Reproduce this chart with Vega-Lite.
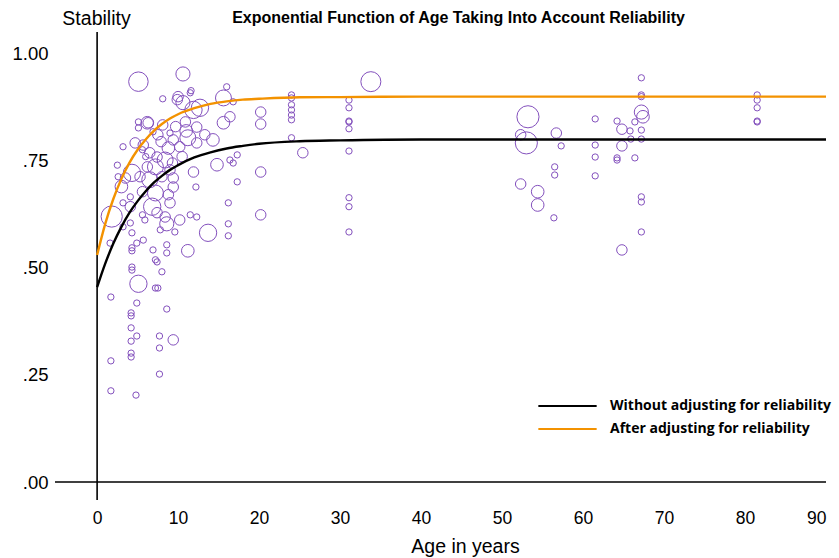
{
  "$schema": "https://vega.github.io/schema/vega-lite/v6.json",
  "width": 771,
  "height": 468,
  "autosize": {"type": "none"},
  "padding": {"left": 55, "top": 32, "right": 13, "bottom": 58},
  "background": "white",
  "config": {"view": {"stroke": null}, "font": "Liberation Sans"},
  "title": {"text": "Exponential Function of Age Taking Into Account Reliability", "font": "Liberation Sans", "fontSize": 16, "fontWeight": "bold", "anchor": "middle", "dx": 18, "dy": 26, "offset": 8, "color": "#000"},
  "datasets": {
    "points": [
      {"age":53.2,"stability":0.853,"n":490},{"age":52.3,"stability":0.811,"n":110},{"age":53.0,"stability":0.792,"n":490},{"age":56.7,"stability":0.815,"n":110},{"age":57.3,"stability":0.785,"n":40},{"age":56.5,"stability":0.736,"n":40},{"age":56.5,"stability":0.717,"n":40},{"age":56.4,"stability":0.617,"n":40},{"age":52.3,"stability":0.696,"n":110},{"age":54.4,"stability":0.678,"n":160},{"age":54.4,"stability":0.647,"n":160},
      {"age":61.5,"stability":0.848,"n":40},{"age":61.5,"stability":0.787,"n":40},{"age":61.5,"stability":0.759,"n":40},{"age":61.5,"stability":0.715,"n":40},{"age":64.2,"stability":0.843,"n":40},{"age":64.8,"stability":0.824,"n":110},{"age":64.8,"stability":0.785,"n":110},{"age":64.2,"stability":0.757,"n":40},{"age":64.2,"stability":0.752,"n":40},{"age":64.8,"stability":0.542,"n":110},{"age":65.8,"stability":0.820,"n":40},{"age":65.9,"stability":0.801,"n":40},{"age":66.4,"stability":0.841,"n":40},{"age":66.4,"stability":0.757,"n":40},
      {"age":67.2,"stability":0.944,"n":40},{"age":67.2,"stability":0.904,"n":40},{"age":67.2,"stability":0.900,"n":40},{"age":67.2,"stability":0.864,"n":200},{"age":67.4,"stability":0.853,"n":160},{"age":67.2,"stability":0.822,"n":40},{"age":67.2,"stability":0.801,"n":40},{"age":67.2,"stability":0.666,"n":40},{"age":67.2,"stability":0.654,"n":40},{"age":67.2,"stability":0.584,"n":40},
      {"age":81.5,"stability":0.904,"n":40},{"age":81.5,"stability":0.892,"n":40},{"age":81.5,"stability":0.874,"n":40},{"age":81.5,"stability":0.843,"n":40},{"age":81.5,"stability":0.841,"n":40},
      {"age":24.0,"stability":0.904,"n":40},{"age":24.0,"stability":0.897,"n":40},{"age":24.0,"stability":0.881,"n":40},{"age":24.0,"stability":0.869,"n":40},{"age":24.0,"stability":0.857,"n":40},{"age":24.0,"stability":0.846,"n":40},{"age":24.0,"stability":0.804,"n":40},{"age":25.4,"stability":0.769,"n":110},
      {"age":31.1,"stability":0.892,"n":40},{"age":31.1,"stability":0.874,"n":40},{"age":31.1,"stability":0.843,"n":40},{"age":31.1,"stability":0.841,"n":40},{"age":31.1,"stability":0.825,"n":40},{"age":31.1,"stability":0.773,"n":40},{"age":31.1,"stability":0.664,"n":40},{"age":31.1,"stability":0.643,"n":40},{"age":31.1,"stability":0.584,"n":40},{"age":33.8,"stability":0.935,"n":400},
      {"age":10.6,"stability":0.953,"n":200},{"age":5.1,"stability":0.935,"n":380},{"age":8.1,"stability":0.895,"n":40},{"age":16.0,"stability":0.923,"n":40},{"age":15.6,"stability":0.897,"n":254},{"age":16.8,"stability":0.888,"n":40},{"age":16.4,"stability":0.853,"n":110},{"age":15.6,"stability":0.839,"n":160},{"age":14.3,"stability":0.799,"n":160},{"age":17.3,"stability":0.764,"n":40},{"age":16.8,"stability":0.745,"n":40},{"age":16.4,"stability":0.752,"n":40},{"age":14.8,"stability":0.741,"n":160},
      {"age":20.2,"stability":0.864,"n":110},{"age":20.2,"stability":0.836,"n":110},{"age":20.2,"stability":0.724,"n":110},{"age":20.2,"stability":0.624,"n":110},{"age":17.3,"stability":0.701,"n":40},{"age":16.2,"stability":0.652,"n":40},{"age":16.2,"stability":0.603,"n":40},{"age":16.2,"stability":0.575,"n":40},{"age":13.7,"stability":0.582,"n":300},{"age":11.2,"stability":0.540,"n":160},{"age":12.2,"stability":0.689,"n":40},{"age":11.9,"stability":0.724,"n":110},{"age":11.5,"stability":0.624,"n":40},{"age":12.3,"stability":0.619,"n":40},{"age":9.4,"stability":0.689,"n":110},
      {"age":10.6,"stability":0.886,"n":200},{"age":10.0,"stability":0.900,"n":110},{"age":11.5,"stability":0.909,"n":40},{"age":11.9,"stability":0.869,"n":300},{"age":12.7,"stability":0.874,"n":300},{"age":10.9,"stability":0.841,"n":110},{"age":12.3,"stability":0.829,"n":110},{"age":13.3,"stability":0.811,"n":110},{"age":11.2,"stability":0.804,"n":254},{"age":12.3,"stability":0.792,"n":110},{"age":10.2,"stability":0.783,"n":110},{"age":9.4,"stability":0.799,"n":110},{"age":9.0,"stability":0.815,"n":40},{"age":8.1,"stability":0.834,"n":110},{"age":6.2,"stability":0.839,"n":160},{"age":5.1,"stability":0.841,"n":40},{"age":5.1,"stability":0.827,"n":40},{"age":6.9,"stability":0.818,"n":40},{"age":7.5,"stability":0.811,"n":110},
      {"age":3.2,"stability":0.783,"n":40},{"age":4.7,"stability":0.792,"n":110},{"age":5.7,"stability":0.787,"n":110},{"age":5.6,"stability":0.776,"n":40},{"age":6.5,"stability":0.769,"n":110},{"age":7.4,"stability":0.759,"n":110},{"age":8.4,"stability":0.752,"n":254},{"age":9.3,"stability":0.745,"n":110},{"age":7.2,"stability":0.736,"n":254},{"age":6.2,"stability":0.736,"n":110},{"age":4.3,"stability":0.722,"n":300},{"age":2.6,"stability":0.713,"n":40},{"age":3.5,"stability":0.710,"n":110},{"age":5.3,"stability":0.713,"n":110},{"age":6.5,"stability":0.706,"n":254},{"age":8.0,"stability":0.713,"n":110},{"age":9.0,"stability":0.729,"n":110},{"age":9.4,"stability":0.710,"n":110},
      {"age":5.6,"stability":0.678,"n":110},{"age":7.2,"stability":0.675,"n":254},{"age":8.8,"stability":0.671,"n":110},{"age":4.1,"stability":0.666,"n":40},{"age":3.2,"stability":0.652,"n":40},{"age":4.1,"stability":0.643,"n":110},{"age":6.8,"stability":0.643,"n":300},{"age":9.0,"stability":0.652,"n":110},{"age":1.8,"stability":0.620,"n":450},{"age":3.2,"stability":0.596,"n":40},{"age":4.1,"stability":0.605,"n":40},{"age":5.6,"stability":0.624,"n":40},{"age":5.9,"stability":0.612,"n":40},{"age":7.4,"stability":0.629,"n":110},{"age":8.4,"stability":0.619,"n":110},{"age":7.8,"stability":0.589,"n":40},{"age":9.6,"stability":0.584,"n":40},{"age":10.2,"stability":0.612,"n":110},{"age":8.6,"stability":0.603,"n":200},
      {"age":4.3,"stability":0.582,"n":40},{"age":5.7,"stability":0.565,"n":40},{"age":4.9,"stability":0.558,"n":40},{"age":4.3,"stability":0.547,"n":40},{"age":4.3,"stability":0.540,"n":40},{"age":6.9,"stability":0.542,"n":40},{"age":8.6,"stability":0.554,"n":40},{"age":8.6,"stability":0.535,"n":40},{"age":1.6,"stability":0.558,"n":40},{"age":4.3,"stability":0.502,"n":40},{"age":4.3,"stability":0.495,"n":40},{"age":5.1,"stability":0.463,"n":300},{"age":7.2,"stability":0.519,"n":40},{"age":7.4,"stability":0.514,"n":40},{"age":8.0,"stability":0.491,"n":40},{"age":7.2,"stability":0.453,"n":40},{"age":7.5,"stability":0.453,"n":40},
      {"age":1.7,"stability":0.432,"n":40},{"age":4.9,"stability":0.418,"n":40},{"age":8.6,"stability":0.404,"n":40},{"age":4.2,"stability":0.395,"n":40},{"age":4.2,"stability":0.388,"n":40},{"age":4.2,"stability":0.360,"n":40},{"age":4.9,"stability":0.341,"n":40},{"age":4.2,"stability":0.329,"n":40},{"age":7.7,"stability":0.341,"n":40},{"age":9.4,"stability":0.332,"n":110},{"age":7.7,"stability":0.313,"n":40},{"age":4.2,"stability":0.301,"n":40},{"age":4.2,"stability":0.292,"n":40},{"age":1.7,"stability":0.283,"n":40},{"age":7.7,"stability":0.252,"n":40},{"age":1.7,"stability":0.213,"n":40},{"age":4.8,"stability":0.203,"n":40},
      {"age":11.6,"stability":0.914,"n":40},{"age":9.9,"stability":0.893,"n":110},{"age":6.3,"stability":0.839,"n":110},{"age":8.8,"stability":0.780,"n":160},{"age":10.5,"stability":0.760,"n":110},{"age":7.9,"stability":0.795,"n":110},{"age":11.0,"stability":0.820,"n":160},{"age":9.7,"stability":0.830,"n":110},{"age":6.0,"stability":0.760,"n":40},{"age":3.0,"stability":0.690,"n":160},{"age":2.5,"stability":0.740,"n":40}
    ],
    "curves": [
      {"age":0,"fit":0.455,"series":"Without adjusting for reliability"},{"age":1,"fit":0.510,"series":"Without adjusting for reliability"},{"age":2,"fit":0.557,"series":"Without adjusting for reliability"},{"age":3,"fit":0.596,"series":"Without adjusting for reliability"},{"age":4,"fit":0.629,"series":"Without adjusting for reliability"},{"age":5,"fit":0.656,"series":"Without adjusting for reliability"},{"age":6,"fit":0.679,"series":"Without adjusting for reliability"},{"age":7,"fit":0.699,"series":"Without adjusting for reliability"},{"age":8,"fit":0.715,"series":"Without adjusting for reliability"},{"age":9,"fit":0.729,"series":"Without adjusting for reliability"},{"age":10,"fit":0.740,"series":"Without adjusting for reliability"},{"age":12,"fit":0.758,"series":"Without adjusting for reliability"},{"age":14,"fit":0.770,"series":"Without adjusting for reliability"},{"age":16,"fit":0.779,"series":"Without adjusting for reliability"},{"age":18,"fit":0.785,"series":"Without adjusting for reliability"},{"age":20,"fit":0.790,"series":"Without adjusting for reliability"},{"age":25,"fit":0.796,"series":"Without adjusting for reliability"},{"age":30,"fit":0.798,"series":"Without adjusting for reliability"},{"age":40,"fit":0.800,"series":"Without adjusting for reliability"},{"age":90,"fit":0.800,"series":"Without adjusting for reliability"},
      {"age":0,"fit":0.530,"series":"After adjusting for reliability"},{"age":1,"fit":0.603,"series":"After adjusting for reliability"},{"age":2,"fit":0.661,"series":"After adjusting for reliability"},{"age":3,"fit":0.708,"series":"After adjusting for reliability"},{"age":4,"fit":0.746,"series":"After adjusting for reliability"},{"age":5,"fit":0.776,"series":"After adjusting for reliability"},{"age":6,"fit":0.800,"series":"After adjusting for reliability"},{"age":7,"fit":0.820,"series":"After adjusting for reliability"},{"age":8,"fit":0.836,"series":"After adjusting for reliability"},{"age":9,"fit":0.849,"series":"After adjusting for reliability"},{"age":10,"fit":0.859,"series":"After adjusting for reliability"},{"age":12,"fit":0.873,"series":"After adjusting for reliability"},{"age":14,"fit":0.883,"series":"After adjusting for reliability"},{"age":16,"fit":0.889,"series":"After adjusting for reliability"},{"age":18,"fit":0.893,"series":"After adjusting for reliability"},{"age":20,"fit":0.895,"series":"After adjusting for reliability"},{"age":25,"fit":0.8985,"series":"After adjusting for reliability"},{"age":30,"fit":0.899,"series":"After adjusting for reliability"},{"age":40,"fit":0.900,"series":"After adjusting for reliability"},{"age":90,"fit":0.900,"series":"After adjusting for reliability"}
    ]
  },
  "layer": [
    {
      "data": {"values": [{}]},
      "mark": {"type": "rule", "color": "#000", "strokeWidth": 1.6},
      "encoding": {"x": {"datum": 0, "type": "quantitative", "scale": {"domain": [-5.2, 90]}}}
    },
    {
      "data": {"values": [{}]},
      "mark": {"type": "rule", "color": "#000", "strokeWidth": 1.6},
      "encoding": {"y": {"datum": 0, "type": "quantitative", "scale": {"domain": [-0.042, 1.051]}}}
    },
    {
      "data": {"name": "points"},
      "mark": {"type": "point", "shape": "circle", "filled": false, "color": "#8350bd", "strokeWidth": 1, "opacity": 1},
      "encoding": {
        "x": {"field": "age", "type": "quantitative", "scale": {"domain": [-5.2, 90], "nice": false, "zero": false},
          "axis": {"title": "Age in years", "values": [0,10,20,30,40,50,60,70,80,90], "domain": false, "ticks": false, "grid": false, "labelFontSize": 17.5, "labelColor": "#000", "labelPadding": 9, "titleFontSize": 19.5, "titleFontWeight": "normal", "titleColor": "#000", "titleX": 410, "titleY": 46, "titleBaseline": "middle", "titleAnchor": null}},
        "y": {"field": "stability", "type": "quantitative", "scale": {"domain": [-0.042, 1.051], "nice": false, "zero": false},
          "axis": {"title": "Stability", "values": [0, 0.25, 0.5, 0.75, 1], "labelExpr": "datum.value == 1 ? '1.00' : replace(format(datum.value, '.2f'), '0.', '.')", "domain": false, "ticks": false, "grid": false, "labelFontSize": 18.5, "labelColor": "#000", "labelPadding": 7, "titleFontSize": 19.5, "titleFontWeight": "normal", "titleColor": "#000", "titleAngle": 0, "titleX": 41, "titleY": -14, "titleBaseline": "middle", "titleAlign": "center", "titleAnchor": null}},
        "size": {"field": "n", "type": "quantitative", "scale": {"domain": [0, 500], "range": [0, 500]}, "legend": null}
      }
    },
    {
      "data": {"name": "curves"},
      "mark": {"type": "line", "strokeWidth": 2.4, "interpolate": "monotone"},
      "encoding": {
        "x": {"field": "age", "type": "quantitative"},
        "y": {"field": "fit", "type": "quantitative"},
        "color": {"field": "series", "type": "nominal", "sort": null,
          "scale": {"domain": ["Without adjusting for reliability", "After adjusting for reliability"], "range": ["#000000", "#f39200"]},
          "legend": {"title": null, "orient": "none", "legendX": 482, "legendY": 366, "symbolType": "stroke", "symbolSize": 3400, "symbolStrokeWidth": 2, "clipHeight": 16, "rowPadding": 7, "labelFont": "Open Sans", "labelFontWeight": "bold", "labelFontSize": 14, "labelColor": "#000", "labelOffset": 12, "labelLimit": 400}}
      }
    }
  ]
}
